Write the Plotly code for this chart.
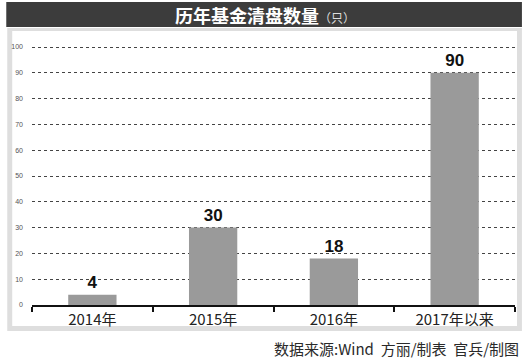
import plotly.graph_objects as go

categories = ["2014年", "2015年", "2016年", "2017年以来"]
values = [4, 30, 18, 90]
y_ticks = [0, 10, 20, 30, 40, 50, 60, 70, 80, 90, 100]

W, H = 526, 362
L, R, T, B = 27, 11, 46, 57
pw, ph = W - L - R, H - T - B


def px(x):
    return (x - L) / pw


def py(y):
    return (H - B - y) / ph


fig = go.Figure(go.Bar(
    x=categories, y=values,
    marker_color="#9a9a9a", marker_line_width=0,
    text=values, texttemplate="<b>%{text}</b>", textposition="outside",
    textfont=dict(size=17, color="#111", family="Liberation Sans, Arial"),
    cliponaxis=False, hoverinfo="skip",
))

shapes = [
    dict(type="rect", xref="paper", yref="paper", x0=px(2), x1=px(522), y0=py(331), y1=py(28),
         fillcolor="#dedede", line_width=0, layer="below"),
    dict(type="rect", xref="paper", yref="paper", x0=px(7), x1=px(517), y0=py(326), y1=py(31),
         fillcolor="#ffffff", line_width=0, layer="below"),
    dict(type="rect", xref="paper", yref="paper", x0=px(1), x1=px(522), y0=py(27), y1=py(2),
         fillcolor="#3c3c3c", line_width=0, layer="below"),
]

annotations = [
    dict(xref="paper", yref="paper", x=px(262), y=py(15), xanchor="center", yanchor="middle",
         showarrow=False,
         text="<b>历年基金清盘数量</b><span style='font-size:12px;color:#dddddd'>（只）</span>",
         font=dict(family="Noto Sans CJK SC", size=18, color="#ffffff")),
    dict(xref="paper", yref="paper", x=px(521), y=py(348), xanchor="right", yanchor="middle",
         showarrow=False, text="数据来源:Wind&nbsp;&nbsp;方丽/制表&nbsp;&nbsp;官兵/制图",
         font=dict(family="Noto Sans CJK SC", size=15, color="#2a2a2a")),
]

fig.update_layout(
    width=W, height=H,
    margin=dict(l=L, r=R, t=T, b=B),
    paper_bgcolor="#ffffff", plot_bgcolor="rgba(0,0,0,0)",
    bargap=0.6, showlegend=False,
    shapes=shapes, annotations=annotations,
    font=dict(family="Noto Sans CJK SC"),
)
fig.update_xaxes(
    showline=True, linecolor="#111", linewidth=2,
    ticks="outside", tickson="boundaries", ticklen=5, tickwidth=2, tickcolor="#111",
    tickfont=dict(size=15, color="#222", family="Noto Sans CJK SC"),
    showgrid=False,
)
fig.update_yaxes(
    range=[0, 100.4], tickvals=y_ticks, ticktext=[str(v) for v in y_ticks],
    showgrid=True, griddash="dot", gridcolor="#444", gridwidth=1,
    zeroline=False, showline=False,
    tickfont=dict(size=7, color="#555", family="Liberation Sans"),
    ticks="", ticklabelstandoff=8,
)

fig.write_html(
    "out.html",
    config={"displayModeBar": False},
    post_script="document.body.style.margin='0';document.body.style.padding='0';document.body.style.overflow='hidden';",
)
